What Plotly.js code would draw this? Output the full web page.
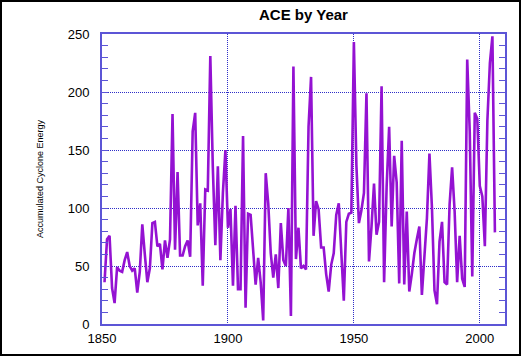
<!DOCTYPE html>
<html><head><meta charset="utf-8">
<script src="https://cdn.plot.ly/plotly-3.0.1.min.js"></script>
<style>
html,body{margin:0;padding:0;background:#fff;}
#wrap{width:521px;height:356px;box-sizing:border-box;border:2px solid #000;position:relative;overflow:hidden;}
#chart{position:absolute;left:-2px;top:-2px;width:521px;height:356px;}
</style></head>
<body><div id="wrap"><div id="chart"></div></div>
<script>
const years = [];
for (let y = 1851; y <= 2006; y++) years.push(y);
const ace = [
 36,73,76,31,18,49,46,45,55,62,50,46,48,27,45,86,60,36,48,87,
 88,67,69,47,72,57,73,181,64,131,59,59,67,72,58,166,182,85,104,33,
 116,115,231,135,68,136,55,113,150,83,99,33,102,30,30,162,14,95,94,64,
 34,57,36,3,130,104,61,40,60,31,87,55,50,100,7,222,56,83,48,50,
 47,170,213,76,106,99,66,66,43,28,51,61,94,104,63,20,88,95,96,243,
 137,87,98,113,199,54,84,121,77,88,205,36,118,170,84,145,122,35,158,34,
 97,28,43,61,73,84,25,62,91,147,100,29,17,71,88,36,34,103,135,97,
 36,76,39,32,228,166,41,182,177,119,110,67,175,225,248,79
];
const xTicks = [1850,1900,1950,2000];
const yTicks = [0,50,100,150,200,250];

const frame = '#5c55d6';
const grid = '#2e2ec8';
const font = {family:'Liberation Sans, Arial, sans-serif', size:13, color:'#000'};

Plotly.newPlot('chart', [{
  x: years, y: ace, type:'scatter', mode:'lines',
  line:{color:'#9412d2', width:2.6}, hoverinfo:'skip'
}], {
  width:521, height:356,
  margin:{l:102, r:16, t:34, b:32},
  paper_bgcolor:'rgba(0,0,0,0)', plot_bgcolor:'#fff',
  showlegend:false,
  title:{text:'<b>ACE by Year</b>', font:{family:'Liberation Sans, Arial, sans-serif', size:15, color:'#000'}, x:0.5, xanchor:'center', xref:'paper', y:0.958, yanchor:'middle'},
  xaxis:{range:[1850,2010], tickvals:xTicks, ticktext:xTicks.map(String), ticks:'', showline:true, linecolor:frame, linewidth:2, mirror:true,
    showgrid:true, gridcolor:grid, griddash:'1px,1px', gridwidth:1, zeroline:false, tickfont:font, ticklabelstandoff:1},
  yaxis:{range:[0,250], tickvals:yTicks, ticktext:yTicks.map(String), ticks:'inside', ticklen:6, tickcolor:frame, tickwidth:1,
    showline:true, linecolor:frame, linewidth:2, mirror:'allticks',
    minor:{dtick:10, tick0:0, ticks:'inside', ticklen:6, tickcolor:frame, tickwidth:1, showgrid:false},
    showgrid:true, gridcolor:grid, griddash:'1px,1px', gridwidth:1, zeroline:false, tickfont:font, ticklabelstandoff:8},
  annotations:[{text:'Accumulated Cyclone Energy', xref:'paper', yref:'paper', x:(40-102)/403, y:0.5, textangle:-90,
    showarrow:false, xanchor:'center', yanchor:'middle', font:{family:'Liberation Sans, Arial, sans-serif', size:9, color:'#000'}}]
}, {staticPlot:true, displayModeBar:false});
</script></body></html>
